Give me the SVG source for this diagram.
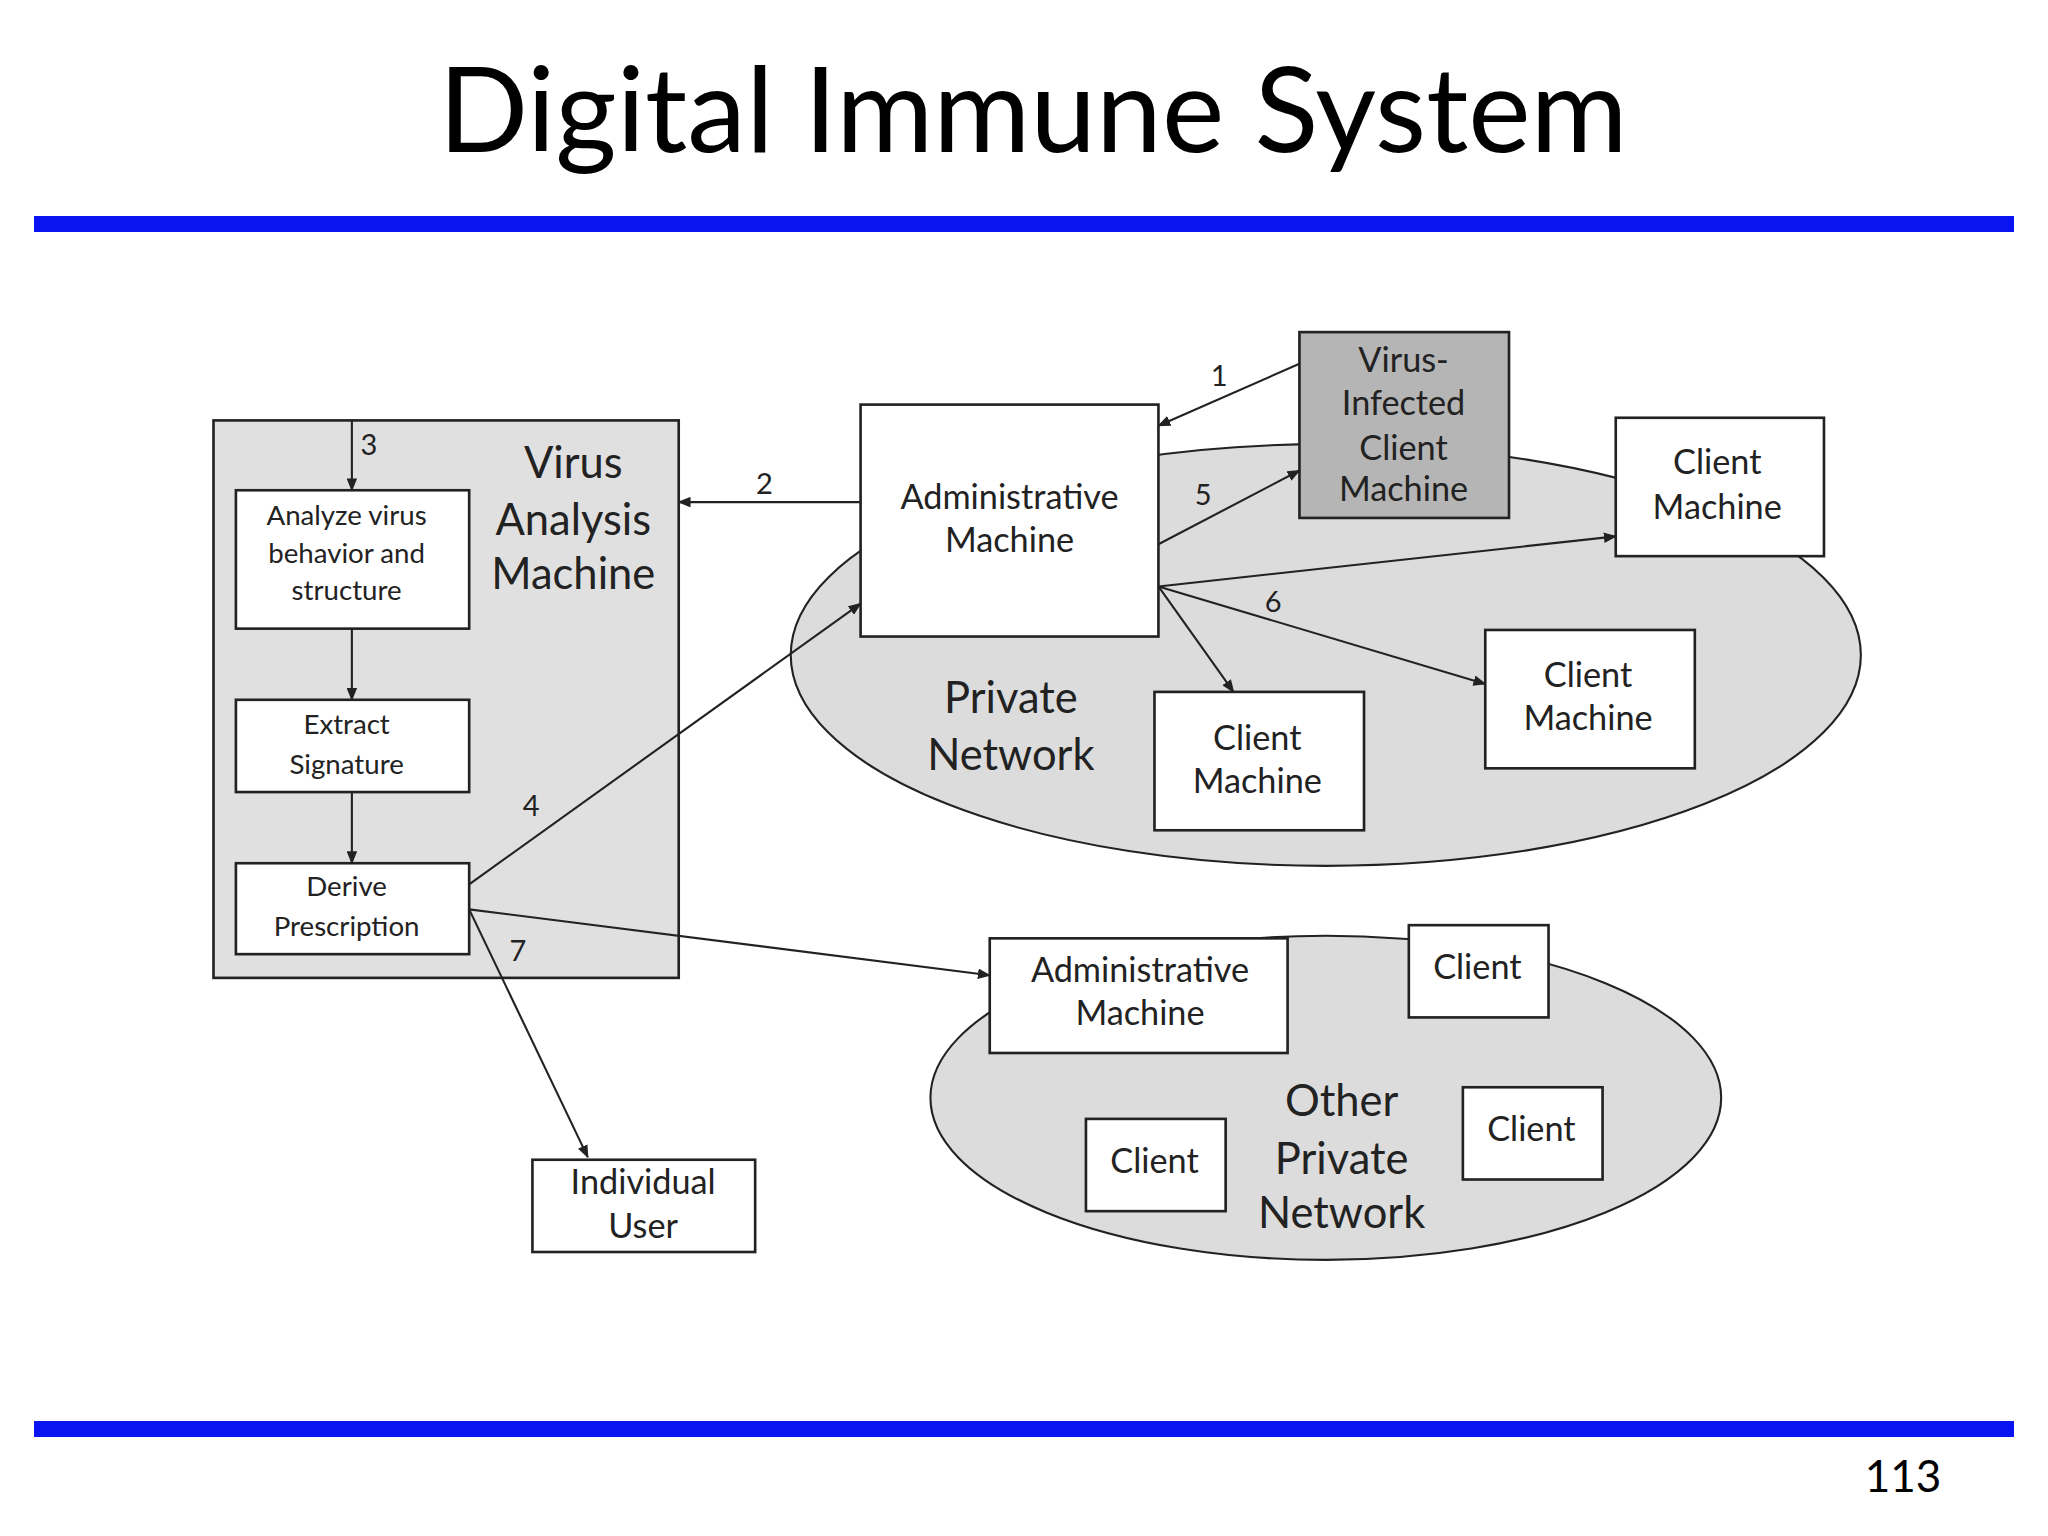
<svg xmlns="http://www.w3.org/2000/svg" width="2048" height="1536" viewBox="0 0 2048 1536">
<style>
.t{font-family:Lato,"Open Sans","Liberation Sans",sans-serif;fill:#222;text-anchor:middle}
.box{fill:#fff;stroke:#222;stroke-width:2}
.c{stroke:#222;stroke-width:1.6;fill:none;marker-end:url(#a)}
.s{font-size:21px}.m{font-size:26px}.l{font-size:33px}.n{font-size:22px}
</style>
<defs><marker id="a" markerWidth="10" markerHeight="8" refX="9" refY="4" orient="auto" markerUnits="userSpaceOnUse"><path d="M0,0L10,4L0,8z" fill="#222"/></marker></defs>
<rect width="2048" height="1536" fill="#fff"/>
<text x="1033" y="152" font-family="Lato,'Open Sans',sans-serif" font-size="118" text-anchor="middle" fill="#000">Digital Immune System</text>
<rect x="34" y="216" width="1980" height="16" fill="#0a14f0"/>
<rect x="34" y="1421" width="1980" height="16" fill="#0a14f0"/>
<text x="1903" y="1492" font-family="Lato,'Open Sans',sans-serif" font-size="44" text-anchor="middle" fill="#000">113</text>
<g transform="scale(1.3179)">
<g id="private-network"><ellipse cx="1006" cy="497" rx="406" ry="160" fill="#dcdcdc" stroke="#222" stroke-width="1.6"/><text class="t l" x="767" y="541">Private</text><text class="t l" x="767" y="584">Network</text></g>
<g id="other-network"><ellipse cx="1006" cy="833" rx="300" ry="123" fill="#dcdcdc" stroke="#222" stroke-width="1.6"/><text class="t l" x="1018" y="847">Other</text><text class="t l" x="1018" y="891">Private</text><text class="t l" x="1018" y="932">Network</text></g>
<g id="vam"><rect x="162" y="319" width="353" height="423" fill="#e0e0e0" stroke="#222" stroke-width="2"/><text class="t l" x="435" y="363">Virus</text><text class="t l" x="435" y="406">Analysis</text><text class="t l" x="435" y="447">Machine</text></g>
<g id="analyze"><rect class="box" x="179" y="372" width="177" height="105"/><text class="t s" x="263" y="398">Analyze virus</text><text class="t s" x="263" y="427">behavior and</text><text class="t s" x="263" y="455">structure</text></g>
<g id="extract"><rect class="box" x="179" y="531" width="177" height="70"/><text class="t s" x="263" y="557">Extract</text><text class="t s" x="263" y="587">Signature</text></g>
<g id="derive"><rect class="box" x="179" y="655" width="177" height="69"/><text class="t s" x="263" y="680">Derive</text><text class="t s" x="263" y="710">Prescription</text></g>
<g id="admin1"><rect class="box" x="653" y="307" width="226" height="176"/><text class="t m" x="766" y="386">Administrative</text><text class="t m" x="766" y="419">Machine</text></g>
<g id="infected"><rect x="986" y="252" width="159" height="141" fill="#b5b5b5" stroke="#222" stroke-width="2"/><text class="t m" x="1065" y="282">Virus-</text><text class="t m" x="1065" y="315">Infected</text><text class="t m" x="1065" y="349">Client</text><text class="t m" x="1065" y="380">Machine</text></g>
<g id="cm1"><rect class="box" x="1226" y="317" width="158" height="105"/><text class="t m" x="1303" y="360">Client</text><text class="t m" x="1303" y="394">Machine</text></g>
<g id="cm2"><rect class="box" x="1127" y="478" width="159" height="105"/><text class="t m" x="1205" y="521">Client</text><text class="t m" x="1205" y="554">Machine</text></g>
<g id="cm3"><rect class="box" x="876" y="525" width="159" height="105"/><text class="t m" x="954" y="569">Client</text><text class="t m" x="954" y="602">Machine</text></g>
<g id="admin2"><rect class="box" x="751" y="712" width="226" height="87"/><text class="t m" x="865" y="745">Administrative</text><text class="t m" x="865" y="778">Machine</text></g>
<g id="c1"><rect class="box" x="1069" y="702" width="106" height="70"/><text class="t m" x="1121" y="743">Client</text></g>
<g id="c2"><rect class="box" x="824" y="849" width="106" height="70"/><text class="t m" x="876" y="890">Client</text></g>
<g id="c3"><rect class="box" x="1110" y="825" width="106" height="70"/><text class="t m" x="1162" y="866">Client</text></g>
<g id="user"><rect class="box" x="404" y="880" width="169" height="70"/><text class="t m" x="488" y="906">Individual</text><text class="t m" x="488" y="939">User</text></g>
<g id="connectors">
<path class="c" d="M267,319V372"/><path class="c" d="M267,477V531"/><path class="c" d="M267,601V655"/>
<path class="c" d="M986,276L879,323"/><path class="c" d="M653,381H515"/><path class="c" d="M879,413L986,357"/>
<path class="c" d="M879,445L1226,407"/><path class="c" d="M879,445L1127,519"/><path class="c" d="M879,445L936,525"/>
<path class="c" d="M356,671L653,458"/><path class="c" d="M356,690L751,740"/><path class="c" d="M356,690L446,878"/>
<text class="t n" x="280" y="345">3</text><text class="t n" x="925" y="293">1</text><text class="t n" x="580" y="375">2</text><text class="t n" x="913" y="383">5</text><text class="t n" x="966" y="464">6</text><text class="t n" x="403" y="619">4</text><text class="t n" x="393" y="729">7</text>
</g>
</g>
</svg>
